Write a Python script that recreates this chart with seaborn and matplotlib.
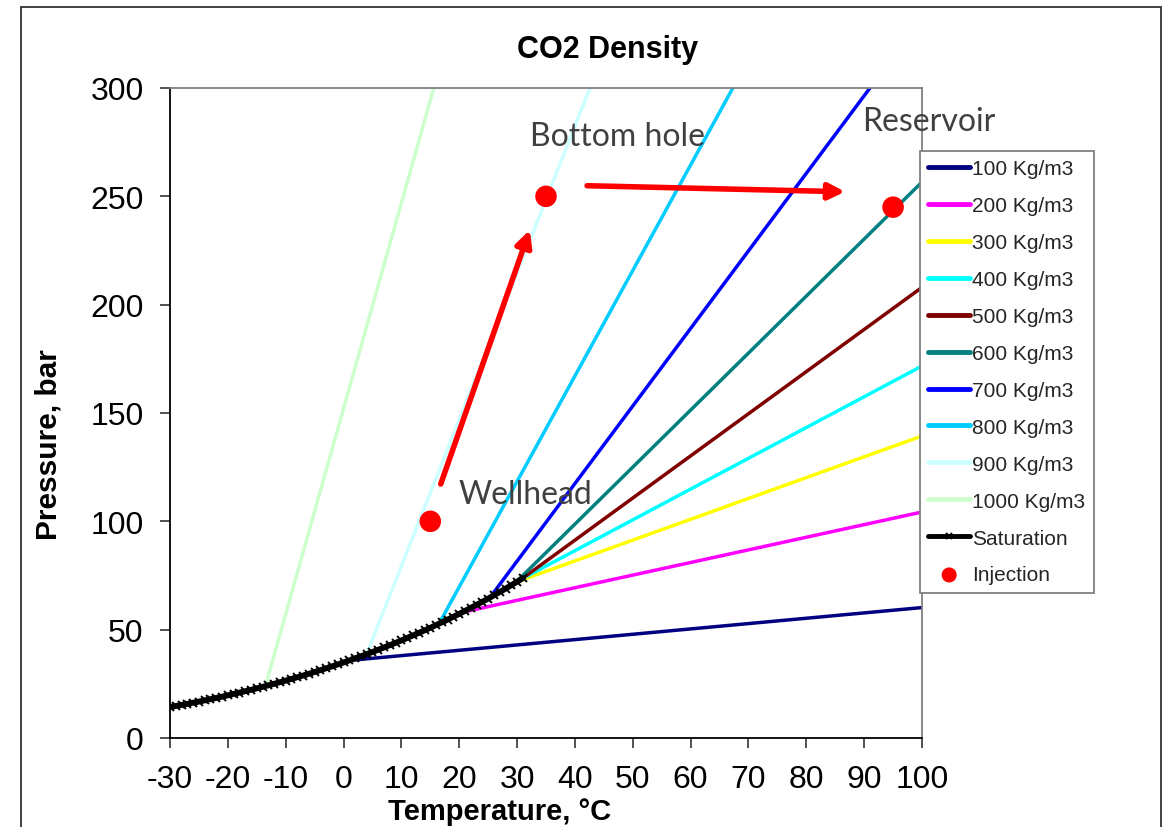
import matplotlib
matplotlib.use("Agg")
import matplotlib.pyplot as plt
from matplotlib.patches import Rectangle
import seaborn as sns
import numpy as np

# ---------------- data ----------------
density_labels = ["100 Kg/m3", "200 Kg/m3", "300 Kg/m3", "400 Kg/m3", "500 Kg/m3",
                  "600 Kg/m3", "700 Kg/m3", "800 Kg/m3", "900 Kg/m3", "1000 Kg/m3"]
density_colors = ["#000080", "#FF00FF", "#FFFF00", "#00FFFF", "#800000",
                  "#008080", "#0000FF", "#00CCFF", "#CCFFFF", "#CCFFCC"]
# isochore start (on saturation line) and end points: temperature (°C), pressure (bar)
iso_start_T = [1.0, 20.5, 30.0, 30.8, 31.0, 29.7, 25.3, 16.5, 4.0, -13.5]
iso_start_P = [35.8, 58.0, 72.1, 73.4, 73.8, 71.6, 64.8, 52.7, 38.7, 24.0]
iso_end_T = [100.0, 100.0, 100.0, 100.0, 100.0, 100.0, 91.0, 67.3, 42.6, 15.6]
iso_end_P = [60.2, 104.3, 139.4, 171.7, 208.0, 256.6, 300.0, 300.0, 300.0, 300.0]

sat_T = [-30, -29, -28, -27, -26, -25, -24, -23, -22, -21, -20, -19, -18, -17, -16,
         -15, -14, -13, -12, -11, -10, -9, -8, -7, -6, -5, -4, -3, -2, -1, 0,
         1, 2, 3, 4, 5, 6, 7, 8, 9, 10, 11, 12, 13, 14, 15, 16, 17, 18, 19, 20,
         21, 22, 23, 24, 25, 26, 27, 28, 29, 30, 31]
sat_P = [14.28, 14.77, 15.27, 15.78, 16.30, 16.82, 17.37, 17.93, 18.50, 19.09, 19.70,
         20.32, 20.95, 21.60, 22.25, 22.91, 23.61, 24.31, 25.03, 25.76, 26.49,
         27.26, 28.04, 28.83, 29.64, 30.46, 31.31, 32.18, 33.06, 33.95, 34.85,
         35.81, 36.78, 37.72, 38.70, 39.69, 40.73, 41.78, 42.85, 43.93, 45.02,
         46.17, 47.33, 48.49, 49.67, 50.86, 52.12, 53.39, 54.68, 55.98, 57.29,
         58.67, 60.06, 61.47, 62.90, 64.34, 65.85, 67.38, 68.92, 70.52, 72.14, 73.77]

inj_T = [15, 35, 95]
inj_P = [100, 250, 245]
inj_labels = ["Wellhead", "Bottom hole", "Reservoir"]
label_T = [19.8, 32.2, 89.6]
label_P = [112.6, 277.8, 284.8]

arrow_start_T = [16.8, 42.1]
arrow_start_P = [117.2, 254.9]
arrow_end_T = [32.2, 86.7]
arrow_end_P = [234.5, 252.1]

x_ticks = list(range(-30, 101, 10))
y_ticks = list(range(0, 301, 50))

# ---------------- style ----------------
sns.set_theme(style="ticks")
plt.rcParams["font.family"] = ["Liberation Sans", "DejaVu Sans"]
plt.rcParams["axes.unicode_minus"] = False

fig = plt.figure(figsize=(11.69, 8.28), dpi=100)
ax = fig.add_axes([170 / 1169, 1 - 739 / 828, (922 - 170) / 1169, (739 - 89) / 828])

for lab, col, t0, p0, t1, p1 in zip(density_labels, density_colors,
                                     iso_start_T, iso_start_P, iso_end_T, iso_end_P):
    sns.lineplot(x=[t0, t1], y=[p0, p1], color=col, lw=2.5, label=lab, ax=ax,
                 sort=False, estimator=None, zorder=2)

sns.lineplot(x=sat_T, y=sat_P, color="black", lw=4.2, marker="x", markersize=6,
             markeredgewidth=1.4, markeredgecolor="black", label="Saturation",
             ax=ax, sort=False, estimator=None, zorder=4)

sns.scatterplot(x=inj_T, y=inj_P, color="#FF0000", s=240, edgecolor="none",
                label="Injection", ax=ax, zorder=6)

for t0, p0, t1, p1 in zip(arrow_start_T, arrow_start_P, arrow_end_T, arrow_end_P):
    ax.annotate("", xy=(t1, p1), xytext=(t0, p0),
                arrowprops=dict(arrowstyle="-|>,head_length=0.8,head_width=0.4",
                                color="#FF0000", lw=4, shrinkA=0, shrinkB=0),
                zorder=5)

for txt, t, p in zip(inj_labels, label_T, label_P):
    ax.text(t, p, txt, fontsize=23, color="#404040", va="center", ha="left",
            family=["Lato", "DejaVu Sans"], zorder=7)

ax.set_xlim(-30, 100)
ax.set_ylim(0, 300)
ax.set_xticks(x_ticks)
ax.set_yticks(y_ticks)
ax.tick_params(axis="both", direction="out", length=7, width=1.2, color="#333333",
               labelsize=23, labelcolor="black")
ax.tick_params(axis="y", pad=12)
ax.tick_params(axis="x", pad=12)

for side in ["left", "bottom"]:
    ax.spines[side].set_color("black")
    ax.spines[side].set_linewidth(1.3)
for side in ["top", "right"]:
    ax.spines[side].set_visible(True)
    ax.spines[side].set_color("#808080")
    ax.spines[side].set_linewidth(1.3)

ax.set_xlabel("Temperature, °C", fontsize=21, fontweight="bold", color="black")
ax.set_ylabel("Pressure, bar", fontsize=21.5, fontweight="bold", color="black")
ax.xaxis.set_label_coords((500 - 170) / 752, (739 - 798) / 650)
ax.yaxis.set_label_coords((63 - 170) / 752, (739 - 445) / 650)

fig.text(608 / 1169, 1 - 50 / 828, "CO2 Density", fontsize=22, fontweight="bold",
         ha="center", va="center", color="black")

leg = ax.legend(loc="upper left", bbox_to_anchor=(920 / 1169, 1 - 152 / 828),
                bbox_transform=fig.transFigure, frameon=True, fancybox=False,
                edgecolor="#808080", fontsize=15, handlelength=2.0,
                labelspacing=0.86, borderpad=0.4, handletextpad=0.12,
                markerscale=0.7, borderaxespad=0)
leg.get_frame().set_linewidth(1.3)
leg.get_frame().set_alpha(1)
for h in leg.get_lines():
    h.set_linewidth(3.5)

fig.patches.append(Rectangle((21 / 1169, -0.05), (1161 - 21) / 1169, 1.05 - 8 / 828,
                             transform=fig.transFigure, fill=False,
                             edgecolor="#333333", lw=1.3))

fig.savefig("out.png", dpi=100, facecolor="white")
